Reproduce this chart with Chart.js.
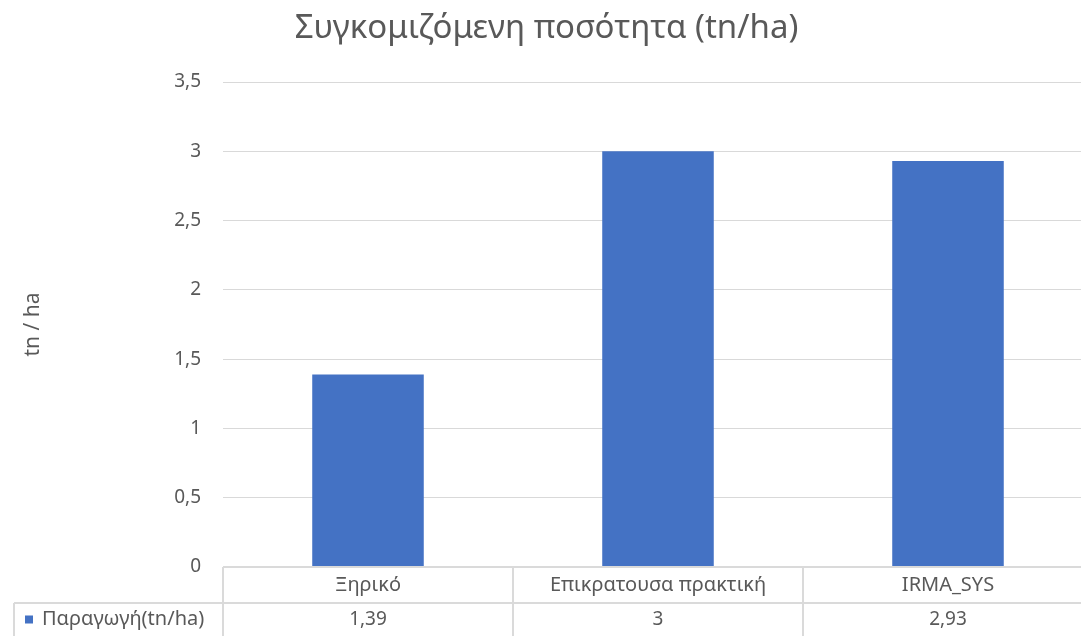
<!DOCTYPE html>
<html>
<head>
<meta charset="utf-8">
<script src="https://cdn.jsdelivr.net/npm/chart.js@4"></script>
<style>
    html, body { margin: 0; padding: 0; background: #fff; overflow: hidden; }
    #wrap { width: 1100px; height: 636px; }
</style>
</head>
<body>
<div id="wrap"><canvas id="chartParagogi" width="1100" height="636"></canvas></div>
<script>
// Συγκομιζόμενη ποσότητα ανά μεταχείριση
const categories = ['Ξηρικό', 'Επικρατουσα πρακτική', 'IRMA_SYS'];
const paragogi = [1.39, 3, 2.93];
const yTicks = [0, 0.5, 1, 1.5, 2, 2.5, 3, 3.5];
const seriesLabel = 'Παραγωγή(tn/ha)';

const FONT = '"Noto Sans", "DejaVu Sans", sans-serif';
const TEXT = '#595959';
const LINE = '#dadada';
const BLUE = '#4472c4';

function fmt(v) {
    return String(v).replace('.', ',');
}

// data table under the plot (category row is the x axis, value row drawn here)
const dataTable = {
    id: 'dataTable',
    afterDraw(chart) {
        const ctx = chart.ctx;
        const x = chart.scales.x;
        const area = chart.chartArea;
        const n = categories.length;
        const step = (area.right - area.left) / n;
        const top = area.bottom;
        const mid = top + 36;
        const bottom = chart.height;

        ctx.save();
        ctx.strokeStyle = LINE;
        ctx.lineWidth = 2;
        ctx.beginPath();
        ctx.moveTo(area.left, top);
        ctx.lineTo(chart.width, top);
        ctx.moveTo(14, mid);
        ctx.lineTo(chart.width, mid);
        for (let i = 0; i < n; i++) {
            const bx = area.left + step * i;
            ctx.moveTo(bx, top);
            ctx.lineTo(bx, bottom);
        }
        ctx.moveTo(14, mid);
        ctx.lineTo(14, bottom);
        ctx.stroke();

        ctx.font = '19px ' + FONT;
        ctx.fillStyle = TEXT;
        ctx.textAlign = 'center';
        ctx.textBaseline = 'middle';
        const rowY = (mid + bottom) / 2;
        paragogi.forEach((v, i) => {
            ctx.fillText(fmt(v), x.getPixelForValue(i), rowY);
        });

        // legend key of the series
        ctx.fillStyle = BLUE;
        ctx.fillRect(25, rowY - 4, 8, 8);
        ctx.fillStyle = TEXT;
        ctx.textAlign = 'left';
        ctx.font = '20px ' + FONT;
        ctx.fillText(seriesLabel, 42, rowY);
        ctx.restore();
    }
};

const ctxParagogi = document.getElementById('chartParagogi');
new Chart(ctxParagogi, {
    type: 'bar',
    data: {
        labels: categories,
        datasets: [{
            label: seriesLabel,
            data: paragogi,
            backgroundColor: BLUE,
            borderWidth: 0,
            categoryPercentage: 1,
            barPercentage: 1 / 2.6
        }]
    },
    options: {
        responsive: false,
        animation: false,
        layout: {
            padding: { left: 0, right: 7, top: 0, bottom: 0 }
        },
        plugins: {
            legend: { display: false },
            tooltip: { enabled: false },
            title: {
                display: true,
                text: 'Συγκομιζόμενη ποσότητα (tn/ha)',
                color: TEXT,
                font: { family: FONT, size: 33, weight: 'normal', lineHeight: 1.2 },
                padding: { top: 9, bottom: 33.4 }
            }
        },
        scales: {
            y: {
                min: 0,
                max: 3.5,
                afterBuildTicks(scale) {
                    scale.ticks = yTicks.map(v => ({ value: v }));
                },
                afterFit(scale) {
                    scale.width = 223;
                },
                ticks: {
                    color: TEXT,
                    padding: 22,
                    font: { family: FONT, size: 19 },
                    callback: v => fmt(v)
                },
                grid: {
                    color: '#d9d9d9',
                    lineWidth: 1,
                    drawTicks: false
                },
                border: { display: false },
                title: {
                    display: true,
                    text: 'tn / ha',
                    color: TEXT,
                    font: { family: FONT, size: 21 },
                    padding: { top: 20 }
                }
            },
            x: {
                afterFit(scale) {
                    scale.height = 69;
                },
                ticks: {
                    color: TEXT,
                    padding: 6,
                    maxRotation: 0,
                    autoSkip: false,
                    font: { family: FONT, size: 20 }
                },
                grid: { display: false, drawTicks: false },
                border: { display: false }
            }
        }
    },
    plugins: [dataTable]
});
</script>
</body>
</html>
